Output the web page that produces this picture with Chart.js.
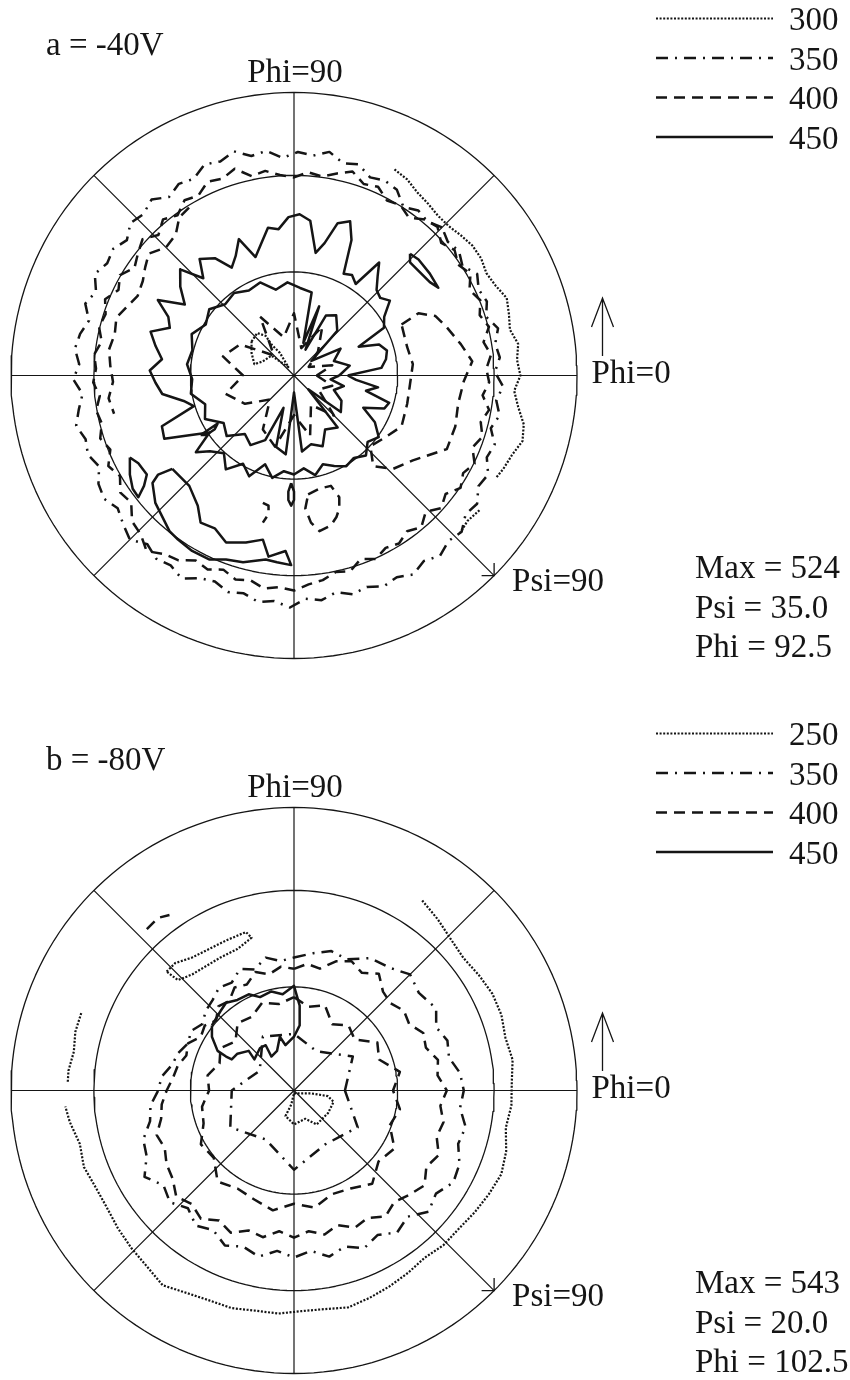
<!DOCTYPE html>
<html>
<head>
<meta charset="utf-8">
<script src="https://cdn.jsdelivr.net/npm/chart.js@4.4.1/dist/chart.umd.min.js"></script>
<style>
  html, body { margin: 0; padding: 0; background: #fff; }
  #page { position: relative; width: 850px; height: 1380px; }
  canvas { position: absolute; left: 0; }
  #fig-a { top: 0; }
  #fig-b { top: 715px; }
</style>
</head>
<body>
<div id="page">
  <canvas id="fig-a" width="850" height="715"></canvas>
  <canvas id="fig-b" width="850" height="665"></canvas>
</div>
<script>
// ---- pole figure data ----
// polar contours: [phi (deg), projected radius (% of Psi=90 circle)]
// xy contours: [x, y] in % of the Psi=90 circle radius
const gridPsi = [30, 60, 90];
const spokePhi = [0, 45, 90, 135, 180, 225, 270, 315];

const levelsA = [300, 350, 400, 450];
const levelsB = [250, 350, 400, 450];
const infoA = ["Max = 524", "Psi = 35.0", "Phi = 92.5"];
const infoB = ["Max = 543", "Psi = 20.0", "Phi = 102.5"];

// figure a (-40V)
const a300Right = [[64,81],[60,80],[56,78],[52,77],[48,76],[44,76],[40,77],[36,78],[32,78],[28,77],[24,78],[20,80],[16,79],[12,78],[8,80],[4,79],[0,80],[-4,78],[-8,80],[-12,83],[-16,84],[-20,82],[-24,81],[-27,80]];
const a300Low = [[-36,81],[-40,80],[-44,81]];
const a300Center = [[-15,12],[-13,15],[-10,14],[-8,11],[-5,8],[-2,3],[-5,5],[-8,7],[-11,5],[-14,4],[-15,8],[-15,12]];

const a350Ring = [[45,74],[49,72],[53,73],[57,71],[61,75],[65,76],[69,75],[73,78],[77,77],[81,80],[85,78],[89,79],[93,77],[97,80],[101,79],[105,82],[109,80],[113,81],[117,78],[121,79],[125,77],[129,80],[133,78],[137,79],[141,76],[145,78],[149,77],[153,79],[157,76],[161,78],[165,75],[169,77],[173,78],[177,76],[181,78],[185,75],[189,77],[193,79],[197,77],[201,78],[205,76],[209,79],[213,80],[217,78],[221,80],[225,82],[229,79],[233,81],[237,80],[241,82],[245,79],[249,78],[253,80],[257,79],[261,81],[265,80],[269,82],[273,79],[277,80],[281,78],[285,80],[289,79],[293,81],[297,80],[301,82],[305,80],[309,82],[313,80],[317,81],[321,78],[325,79],[329,76],[333,77],[337,74],[341,75],[345,72],[349,74],[353,72],[357,74],[1,71],[5,73],[9,72],[13,74],[17,71],[21,73],[25,72],[29,74],[33,71],[37,73],[41,72],[45,74]];

const a400Ring = [[50,72],[54,69],[58,71],[62,70],[66,73],[70,72],[74,75],[78,73],[82,71],[86,72],[90,70],[94,71],[98,73],[102,72],[106,76],[110,74],[114,75],[118,72],[122,73],[126,70],[130,72],[134,69],[138,72],[142,70],[146,68],[150,71],[154,69],[158,72],[162,70],[166,71],[170,69],[174,71],[178,70],[182,71],[186,69],[190,71],[194,70],[198,72],[202,70],[206,73],[210,71],[214,74],[218,73],[222,77],[226,78],[230,81],[234,78],[238,77],[242,74],[246,75],[250,73],[254,75],[258,74],[262,76],[266,75],[270,76],[274,74],[278,73],[282,71],[286,72],[290,69],[294,71],[298,69],[302,70],[306,68],[310,70],[314,67],[318,70],[322,68],[326,71],[330,69],[334,71],[338,68],[342,70],[346,68],[350,70],[354,67],[358,69],[2,68],[6,70],[10,68],[14,71],[18,69],[22,71],[26,69],[30,72],[34,70],[38,72],[42,70],[46,73],[50,72]];
const a400Left = [[122,70],[126,69],[130,65],[135,64],[140,67],[144,65],[148,63],[153,62],[158,64],[162,66],[167,65],[172,66],[177,65],[182,64],[187,66],[192,65]];
const a400Center = [[0,8],[15,14],[30,6],[45,12],[60,20],[75,10],[90,22],[105,14],[120,24],[135,10],[150,22],[165,26],[180,18],[195,25],[210,20],[225,12],[240,22],[255,26],[270,14],[285,22],[300,12],[315,20],[330,10],[345,14],[360,8]];
const a400RightLoop = [[38,18],[44,22],[50,21],[54,17],[59,11],[63,5],[60,-2],[58,-10],[57,-18],[54,-26],[48,-28],[42,-30],[35,-33],[28,-32],[27,-25],[32,-22],[38,-18],[40,-10],[41,-3],[42,4],[40,10],[38,18]];
const a400BottomLoop = [[5,-42],[9,-40],[13,-39],[16,-43],[16,-47],[15,-50],[13,-53],[9,-55],[6,-52],[4,-47],[5,-42]];
const a400Arc = [[-11,-45],[-9,-46],[-9,-49],[-11,-52]];

const a450Outer = [[0,19],[5,31],[10,33],[15,34],[20,32],[24,25],[28,36],[33,38],[38,43],[42,41],[46,42],[50,46],[53,50],[56,39],[60,41],[64,40],[67,52],[70,58],[74,56],[77,48],[80,44],[84,55],[88,57],[92,56],[96,52],[100,53],[104,48],[108,44],[112,52],[116,47],[120,44],[124,50],[129,53],[133,47],[137,55],[142,51],[147,46],[151,55],[155,49],[159,47],[163,53],[168,50],[173,47],[178,51],[183,49],[188,47],[193,40],[197,37],[201,50],[206,51],[210,42],[214,36],[218,44],[222,40],[228,37],[234,41],[240,36],[246,39],[252,33],[258,37],[264,34],[270,35],[276,33],[282,36],[288,33],[294,35],[300,37],[306,36],[312,38],[318,35],[324,37],[330,33],[335,27],[340,34],[344,35],[348,26],[352,30],[356,22],[360,19]];
const a450Inner = [[0,16],[10,20],[20,15],[30,19],[40,8],[46,22],[55,26],[62,24],[66,10],[70,26],[74,12],[78,30],[86,31],[94,33],[102,31],[110,35],[118,34],[126,36],[134,35],[142,38],[150,36],[158,39],[166,37],[174,38],[182,36],[190,37],[198,33],[206,35],[214,30],[222,32],[230,27],[238,29],[246,25],[252,12],[256,26],[264,28],[270,6],[276,27],[284,25],[292,27],[300,22],[310,24],[316,7],[322,21],[332,19],[340,15],[348,18],[354,13],[360,16]];
const a450Lobe = [[-43,-33],[-37,-39],[-34,-46],[-33,-52],[-28,-54],[-24,-59],[-17,-59],[-11,-58],[-9,-64],[-3,-62],[-1,-67],[-6,-66],[-10,-65],[-18,-66],[-24,-65],[-30,-65],[-36,-62],[-41,-58],[-44,-55],[-47,-49],[-49,-45],[-50,-38],[-48,-35],[-43,-33]];
const a450Isle = [[-58,-29],[-55,-31],[-52,-35],[-53,-39],[-55,-43],[-57,-40],[-58,-35],[-58,-29]];
const a450Drop = [[-1,-38],[0,-41],[0,-44],[-1,-46],[-2,-44],[-2,-41],[-1,-38]];
const a450Blob = [[-33,-21],[-30,-19],[-27,-17],[-28,-19],[-31,-21],[-33,-21]];
const a450Sliver = [[41,43],[44,41],[48,36],[51,31],[48,33],[44,37],[41,40],[41,43]];

// figure b (-80V)
const b250Outer = [[56,81],[50,79],[44,77],[38,76],[32,77],[26,78],[20,78],[14,77],[8,78],[2,77],[-4,77],[-10,76],[-16,78],[-22,79],[-28,78],[-34,77],[-40,76],[-46,76],[-52,75],[-58,76],[-64,77],[-70,78],[-76,79],[-82,78],[-88,78],[-94,79],[-100,79],[-106,80],[-112,80],[-118,81],[-124,83],[-130,81],[-136,80],[-142,79],[-148,78],[-154,78],[-160,79],[-166,78],[-172,80],[-176,81]];
const b250Left = [[160,80],[165,80],[170,79],[175,80],[178,80]];
const b250Loop = [[-45,42],[-42,45],[-36,47],[-30,50],[-24,53],[-17,56],[-15,54],[-20,50],[-26,47],[-31,44],[-36,41],[-41,39],[-45,42]];
const b250Center = [[0,-1],[6,-1],[12,-2],[14,-4],[12,-8],[8,-12],[4,-10],[0,-12],[-3,-9],[-1,-5],[0,-1]];

const b350Ring = [[90,47],[82,49],[75,51],[68,50],[60,54],[52,55],[45,58],[38,56],[30,58],[24,55],[18,57],[12,56],[6,59],[0,60],[-6,59],[-12,62],[-18,61],[-24,64],[-30,65],[-36,62],[-42,64],[-48,60],[-54,62],[-60,59],[-66,61],[-72,58],[-78,60],[-84,57],[-90,59],[-96,57],[-102,60],[-108,58],[-114,60],[-120,57],[-126,59],[-132,56],[-138,59],[-144,57],[-150,61],[-156,57],[-162,56],[-168,52],[-174,51],[-180,48],[174,47],[168,44],[162,43],[156,41],[150,42],[144,40],[138,42],[132,43],[126,45],[120,44],[114,47],[108,45],[102,48],[96,46],[90,47]];
const b350Inner = [[0,18],[30,24],[60,16],[90,20],[120,22],[150,14],[180,22],[210,26],[240,20],[270,28],[300,22],[330,26],[360,18]];

const b400Outer = [[90,43],[84,45],[78,44],[72,48],[66,50],[60,48],[54,51],[48,47],[42,46],[36,48],[30,47],[24,50],[18,49],[12,52],[6,51],[0,54],[-6,52],[-12,54],[-18,53],[-24,56],[-30,54],[-36,57],[-42,55],[-48,53],[-54,55],[-60,52],[-66,53],[-72,50],[-78,52],[-84,50],[-90,52],[-96,50],[-102,53],[-108,52],[-114,55],[-120,53],[-126,56],[-132,54],[-138,56],[-144,53],[-150,52],[-156,50],[-162,51],[-168,48],[-174,47],[180,45],[174,43],[168,42],[162,40],[156,41],[150,38],[144,39],[138,37],[132,40],[126,39],[120,42],[114,41],[108,44],[102,42],[96,44],[90,43]];
const b400Inner = [[90,33],[80,30],[70,32],[60,27],[50,30],[40,28],[30,34],[20,32],[10,38],[0,35],[-10,38],[-20,36],[-30,41],[-40,39],[-50,43],[-60,40],[-70,39],[-80,42],[-90,40],[-100,43],[-110,41],[-120,40],[-130,42],[-140,37],[-150,38],[-160,34],[-170,33],[180,30],[170,31],[160,28],[150,30],[140,27],[130,31],[120,30],[110,33],[100,31],[90,33]];
const b400Bit = [[-52,57],[-48,61],[-44,62]];

const b450Loop = [[-29,23],[-26,28],[-24,31],[-20,32],[-16,34],[-12,33],[-8,35],[-4,34],[0,37],[2,30],[2,23],[0,19],[-3,16],[-5,19],[-6,14],[-8,12],[-10,16],[-12,15],[-14,11],[-16,14],[-20,13],[-22,11],[-24,12],[-27,14],[-29,19],[-29,23]];

// ---- drawing ----
const CX = 294, CY = 375.5, RPX = 283;
const INK = "#151515";
const FONT = '33px "Liberation Serif", "Times New Roman", serif';

const STYLES = [
  { borderWidth: 2.2, borderDash: [2, 1.6] },
  { borderWidth: 2.5, borderDash: [12, 7, 2, 7] },
  { borderWidth: 2.5, borderDash: [11, 7] },
  { borderWidth: 2.5, borderDash: [] },
];

function fromPolar(pairs) {
  return pairs.map(([phi, r]) => ({
    x: r / 100 * Math.cos(phi * Math.PI / 180),
    y: r / 100 * Math.sin(phi * Math.PI / 180),
  }));
}
function fromXY(pairs) {
  return pairs.map(([x, y]) => ({ x: x / 100, y: y / 100 }));
}

function gridSets() {
  const sets = [];
  gridPsi.forEach((psi) => {
    const r = Math.SQRT2 * Math.sin(psi / 2 * Math.PI / 180);
    const pts = [];
    for (let a = 0; a <= 360; a += 2) {
      pts.push({ x: r * Math.cos(a * Math.PI / 180), y: r * Math.sin(a * Math.PI / 180) });
    }
    sets.push({ data: pts, borderWidth: 1.3 });
  });
  spokePhi.forEach((phi) => {
    const c = Math.cos(phi * Math.PI / 180), s = Math.sin(phi * Math.PI / 180);
    sets.push({ data: [{ x: 0, y: 0 }, { x: c, y: s }], borderWidth: 1.2 });
  });
  return sets;
}

function contour(points, level) {
  return Object.assign({ data: points }, STYLES[level]);
}

const decor = {
  id: "decor",
  afterDatasetsDraw(chart, args, opts) {
    const { ctx, scales: { x, y } } = chart;
    const ox = x.getPixelForValue(0), oy = y.getPixelForValue(0);
    const top = y.getPixelForValue(1), right = x.getPixelForValue(1);
    ctx.save();
    ctx.fillStyle = INK;
    ctx.strokeStyle = INK;
    ctx.font = FONT;
    ctx.textBaseline = "alphabetic";

    ctx.textAlign = "left";
    ctx.fillText(opts.title, 46, 54.5);
    ctx.textAlign = "center";
    ctx.fillText("Phi=90", ox + 1, top - 10.5);
    ctx.textAlign = "left";
    ctx.fillText("Phi=0", right + 14.5, oy + 7.5);

    // Phi=0 arrow
    const ax = right + 25.5;
    ctx.lineWidth = 1.3;
    ctx.setLineDash([]);
    ctx.beginPath();
    ctx.moveTo(ax, oy - 19.5); ctx.lineTo(ax, oy - 77.5);
    ctx.moveTo(ax - 11, oy - 48.5); ctx.lineTo(ax, oy - 77.5); ctx.lineTo(ax + 11, oy - 48.5);
    ctx.stroke();

    // Psi=90 arrow head at the end of the 315 deg spoke
    const tx = x.getPixelForValue(Math.cos(-Math.PI / 4));
    const ty = y.getPixelForValue(Math.sin(-Math.PI / 4));
    ctx.beginPath();
    ctx.moveTo(tx - 12.5, ty); ctx.lineTo(tx, ty); ctx.lineTo(tx, ty - 12.5);
    ctx.stroke();
    ctx.fillText("Psi=90", tx + 18, ty + 15);

    // legend
    opts.levels.forEach((lv, i) => {
      const ly = 18.5 + i * 39.5;
      const st = STYLES[i];
      ctx.lineWidth = st.borderWidth;
      ctx.setLineDash(st.borderDash);
      ctx.beginPath();
      ctx.moveTo(656, ly); ctx.lineTo(773, ly);
      ctx.stroke();
      ctx.fillText(String(lv), 789, ly + 11.5);
    });
    ctx.setLineDash([]);

    opts.info.forEach((t, i) => ctx.fillText(t, 695, 578.3 + i * 39.5));
    ctx.restore();
  },
};

function makeFigure(id, title, levels, info, contours) {
  const canvas = document.getElementById(id);
  const h = canvas.height;
  const datasets = gridSets().concat(contours).map((d) => Object.assign({
    showLine: true,
    pointRadius: 0,
    fill: false,
    tension: 0,
    borderColor: INK,
    borderCapStyle: "butt",
    borderJoinStyle: "round",
  }, d));
  return new Chart(canvas, {
    type: "scatter",
    data: { datasets },
    options: {
      responsive: false,
      animation: false,
      events: [],
      devicePixelRatio: 1,
      layout: { padding: 0 },
      plugins: {
        legend: { display: false },
        tooltip: { enabled: false },
        decor: { title, levels, info },
      },
      scales: {
        x: { type: "linear", display: false, min: -CX / RPX, max: (canvas.width - CX) / RPX },
        y: { type: "linear", display: false, min: -(h - CY) / RPX, max: CY / RPX },
      },
    },
    plugins: [decor],
  });
}

function build() {
  makeFigure("fig-a", "a = -40V", levelsA, infoA, [
    contour(fromPolar(a300Right), 0),
    contour(fromPolar(a300Low), 0),
    contour(fromXY(a300Center), 0),
    contour(fromPolar(a350Ring), 1),
    contour(fromPolar(a400Ring), 2),
    contour(fromPolar(a400Left), 2),
    contour(fromPolar(a400Center), 2),
    contour(fromXY(a400RightLoop), 2),
    contour(fromXY(a400BottomLoop), 2),
    contour(fromXY(a400Arc), 2),
    contour(fromPolar(a450Outer), 3),
    contour(fromPolar(a450Inner), 3),
    contour(fromXY(a450Lobe), 3),
    contour(fromXY(a450Isle), 3),
    contour(fromXY(a450Drop), 3),
    contour(fromXY(a450Blob), 3),
    contour(fromXY(a450Sliver), 3),
  ]);
  makeFigure("fig-b", "b = -80V", levelsB, infoB, [
    contour(fromPolar(b250Outer), 0),
    contour(fromPolar(b250Left), 0),
    contour(fromXY(b250Loop), 0),
    contour(fromXY(b250Center), 0),
    contour(fromPolar(b350Ring), 1),
    contour(fromPolar(b350Inner), 1),
    contour(fromPolar(b400Outer), 2),
    contour(fromPolar(b400Inner), 2),
    contour(fromXY(b400Bit), 2),
    contour(fromXY(b450Loop), 3),
  ]);
}

if (document.fonts && document.fonts.load) {
  document.fonts.load(FONT).then(build, build);
} else {
  build();
}
</script>
</body>
</html>
